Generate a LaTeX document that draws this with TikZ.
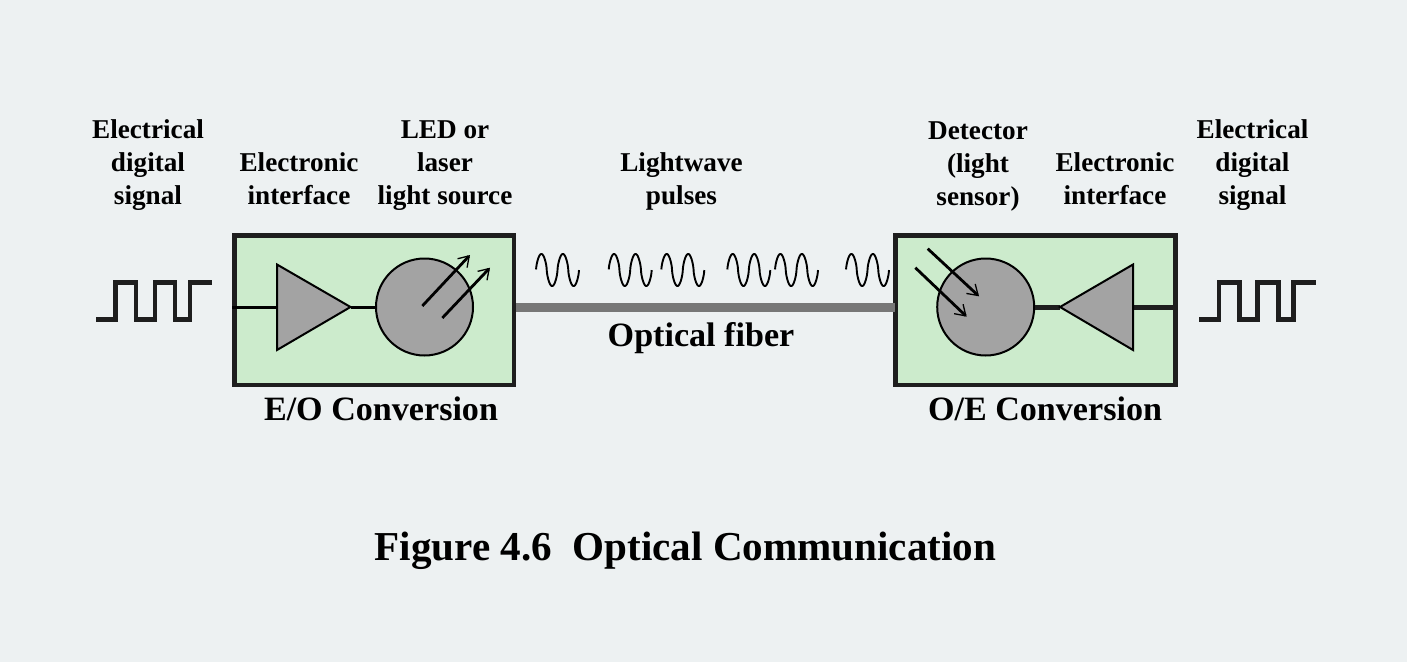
\documentclass[tikz,border=0pt]{standalone}
\usepackage{fontspec}
\setmainfont{Liberation Serif}
\usetikzlibrary{arrows.meta}
\definecolor{bgc}{HTML}{EDF1F2}
\definecolor{boxc}{HTML}{CCEBCC}
\definecolor{grayc}{HTML}{A3A3A3}
\definecolor{fiberc}{HTML}{777777}
\definecolor{inkc}{HTML}{1E1E1E}
\tikzset{
 lbl/.style={font=\bfseries\fontsize{27.2bp}{33bp}\selectfont,align=center,inner sep=0pt,text=black},
 bigl/.style={font=\bfseries\fontsize{34.1bp}{40bp}\selectfont,inner sep=0pt,text=black},
 titl/.style={font=\bfseries\fontsize{41.1bp}{46bp}\selectfont,inner sep=0pt,text=black},
 unit/.style={draw=inkc,line width=4.8bp,fill=boxc},
 amp/.style={draw=black,line width=2bp,fill=grayc,line join=miter},
 led/.style={circle,draw=black,line width=2bp,fill=grayc,minimum size=97bp,inner sep=0pt},
 wire/.style={draw=black,line width=3bp},
 wirethick/.style={draw=inkc,line width=5bp},
 sq/.style={draw=inkc,line width=4.8bp,line join=miter},
 fib/.style={draw=fiberc,line width=8.4bp},
 ray/.style={draw=black,line width=2.8bp,-{Straight Barb[length=10bp,width=13bp,line width=1.3bp]}},
 wav/.style={draw=black,line width=1.9bp,line join=round},
}
\begin{document}
\begin{tikzpicture}[x=1bp,y=-1bp]
\useasboundingbox[fill=bgc] (0,0) rectangle (1407,662);
% boxes
\node[unit,draw,minimum width=279.3bp,minimum height=149.5bp,inner sep=0pt] (eo) at (374.35,310.25) {};
\node[unit,draw,minimum width=280.5bp,minimum height=149.5bp,inner sep=0pt] (oe) at (1035.55,310.25) {};
% fiber
\coordinate (fa) at (eo.east |- 0,307.5);
\coordinate (fb) at (oe.west |- 0,307.5);
\draw[fib] (fa) -- ([xshift=2bp]fb);
% E/O internals
\coordinate (ta) at (277,264.5); \coordinate (tb) at (277,350); \coordinate (tc) at (350.5,307);
\coordinate (tw) at (277,307);
\node[led] (src) at (424.5,307) {};
\draw[wire] (eo.west |- tw) -- (tw);
\draw[wire] (tc) -- (src.west);
\draw[amp] (ta) -- (tc) -- (tb) -- cycle;
\coordinate (r1a) at (422.3,306); \coordinate (r1b) at (470,255);
\coordinate (r2a) at (442.3,318); \coordinate (r2b) at (490,267.7);
\draw[ray] (r1a) -- (r1b);
\draw[ray] (r2a) -- (r2b);
% O/E internals
\coordinate (ua) at (1133,264.5); \coordinate (ub) at (1133,350); \coordinate (uc) at (1060,307);
\coordinate (uw) at (1133,307);
\node[led] (det) at (985.7,307) {};
\draw[wirethick] (det.east) -- (uc);
\draw[wirethick] (uw) -- (oe.east |- uw);
\draw[amp] (ua) -- (uc) -- (ub) -- cycle;
\coordinate (s1a) at (927.7,248.7); \coordinate (s1b) at (979,296.3);
\coordinate (s2a) at (915.3,267.7); \coordinate (s2b) at (966.7,316.7);
\draw[ray] (s1a) -- (s1b);
\draw[ray] (s2a) -- (s2b);
% square signals
\draw[sq] (96,319.3) -| (115.7,282.3) -| (136,319.3) -| (155,282.3) -| (175,319.3) -| (190,282.3) -- (212,282.3);
\draw[sq] (1199,319.3) -| (1219,282.3) -| (1239.3,319.3) -| (1257.7,282.3) -| (1278.3,319.3) -| (1293.3,282.3) -- (1316,282.3);
% light pulses
\foreach \s in {536,608.7,661.3,727.3,775,846}{
  \draw[wav] plot[domain=0.02:43,samples=140] ({\s+\x},{270-16*sign(sin(\x*360/21.5))*abs(sin(\x*360/21.5))^0.65});
}
% labels
\node[lbl] (l1) at (148,165) {Electrical\\digital\\signal};
\node[lbl] (l2) at (299,179) {Electronic\\interface};
\node[lbl] (l3) at (445,166) {LED or\\laser\\light source};
\node[lbl] (l4) at (681.5,181.5) {Lightwave\\pulses};
\node[lbl] (l5) at (978,166) {Detector\\(light\\sensor)};
\node[lbl] (l6) at (1115,179) {Electronic\\interface};
\node[lbl] (l7) at (1252.5,165) {Electrical\\digital\\signal};
\node[bigl] (l8) at (701,338) {Optical fiber};
\node[bigl] (l9) at (381,409) {E/O Conversion};
\node[bigl] (l10) at (1045,409) {O/E Conversion};
\node[titl] (l11) at (685.5,551) {Figure 4.6\ \ Optical Communication};
\end{tikzpicture}
\end{document}
